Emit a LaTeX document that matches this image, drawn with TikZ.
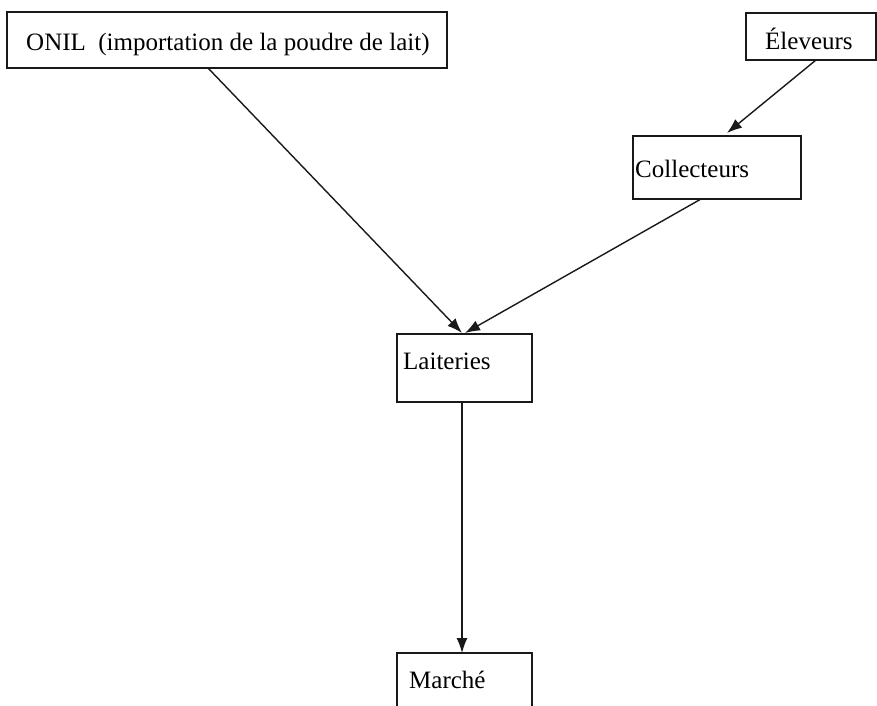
\documentclass[tikz,border=0pt]{standalone}
\usepackage{fontspec}
\setmainfont{Liberation Serif}
\usetikzlibrary{arrows.meta,calc}
\begin{document}
\begin{tikzpicture}[x=1pt,y=-1pt,
  box/.style={draw=black!90,line width=1.6pt,inner sep=0pt,outer sep=0pt,anchor=north west},
  lbl/.style={anchor=base west,inner sep=0pt,font=\rmfamily\fontsize{25}{29}\selectfont},
  conn/.style={draw=black!90,line width=1.4pt,-{Latex[length=15pt,width=11pt]}}]
\useasboundingbox (0,0) rectangle (877,705);
\begin{scope}
\clip (0,0) rectangle (877,705);
\node[box,minimum width=440pt,minimum height=56pt] (onil) at (7,12) {};
\node[box,minimum width=130pt,minimum height=47pt] (elev) at (746,13) {};
\node[box,minimum width=168pt,minimum height=63pt] (coll) at (633,136) {};
\node[box,minimum width=135pt,minimum height=68pt] (lait) at (397,334) {};
\node[box,minimum width=135pt,minimum height=80pt] (marc) at (397,653) {};
\end{scope}
\node[lbl] (tonil) at (26,50) {ONIL\ \ (importation de la poudre de lait)};
\node[lbl] (telev) at (765,49) {Éleveurs};
\node[lbl] (tcoll) at (635,177) {Collecteurs};
\node[lbl] (tlait) at (403,369) {Laiteries};
\node[lbl] (tmarc) at (409,688) {Marché};
\draw[conn] ([xshift=201pt]onil.south west) -- ([xshift=-2.5pt,yshift=1pt]lait.north);
\draw[conn] ([xshift=70pt]elev.south west) -- ([xshift=94pt,yshift=3pt]coll.north west);
\draw[conn] ([xshift=68pt]coll.south west) -- ([xshift=0.5pt,yshift=1pt]lait.north);
\draw[conn] ([xshift=-2.5pt]lait.south) -- ([xshift=-2.5pt]marc.north);
\end{tikzpicture}
\end{document}
